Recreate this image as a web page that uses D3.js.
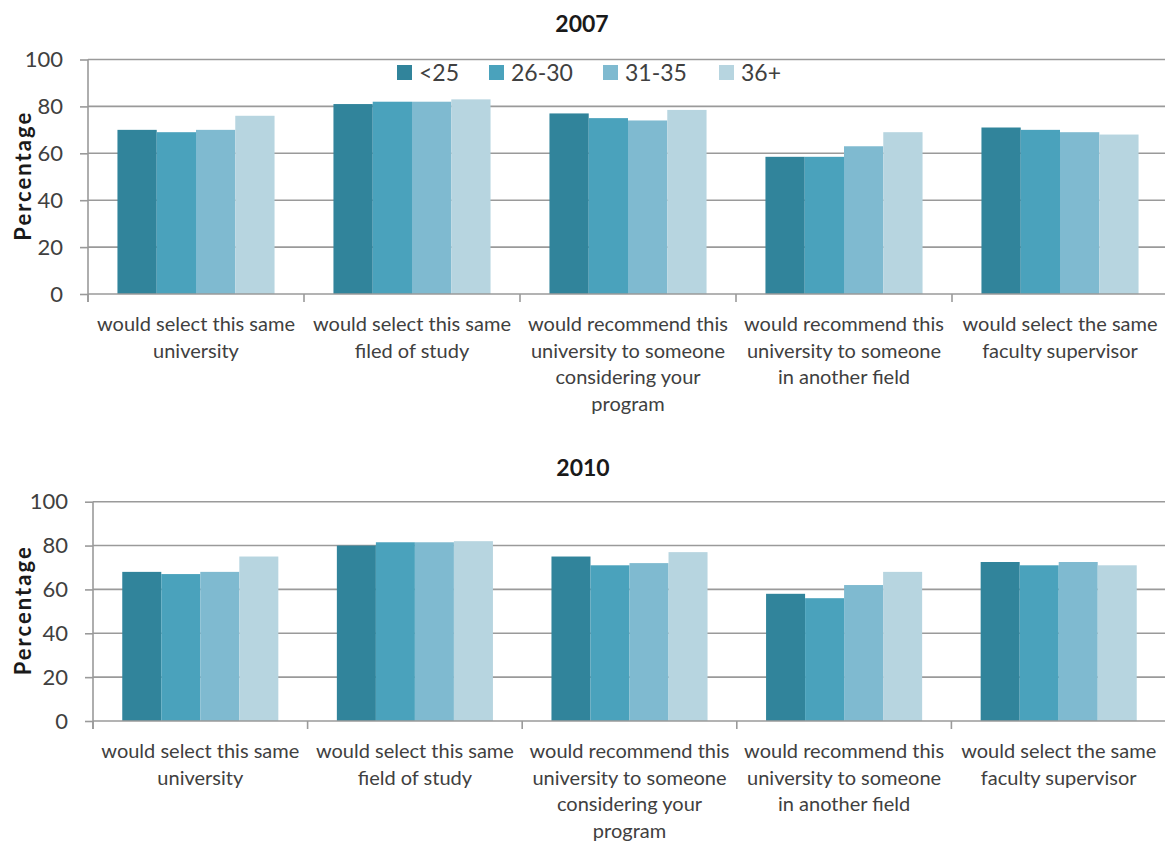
<!DOCTYPE html>
<html>
<head>
<meta charset="utf-8">
<script src="https://cdn.jsdelivr.net/npm/d3@7/dist/d3.min.js"></script>
<style>
  html, body { margin: 0; padding: 0; background: #fff; }
  svg { display: block; font-family: Lato, "Open Sans", sans-serif; }
</style>
</head>
<body>
<svg id="chart" width="1165" height="842"></svg>
<script>
// Age groups (series)
const ageGroups = ["<25", "26-30", "31-35", "36+"];
const seriesColors = ["#31849B", "#4AA2BC", "#7FBAD0", "#B7D5E0"];

// Survey statements (line breaks mark wrapping)
const categories2007 = [
  "would select this same\nuniversity",
  "would select this same\nfiled of study",
  "would recommend this\nuniversity to someone\nconsidering your\nprogram",
  "would recommend this\nuniversity to someone\nin another field",
  "would select the same\nfaculty supervisor"
];
const categories2010 = [
  "would select this same\nuniversity",
  "would select this same\nfield of study",
  "would recommend this\nuniversity to someone\nconsidering your\nprogram",
  "would recommend this\nuniversity to someone\nin another field",
  "would select the same\nfaculty supervisor"
];

// Percentages per statement, one array per age group
const values2007 = {
  "<25":   [70, 81, 77, 58.5, 71],
  "26-30": [69, 82, 75, 58.5, 70],
  "31-35": [70, 82, 74, 63, 69],
  "36+":   [76, 83, 78.5, 69, 68]
};
const values2010 = {
  "<25":   [68, 80, 75, 58, 72.5],
  "26-30": [67, 81.5, 71, 56, 71],
  "31-35": [68, 81.5, 72, 62, 72.5],
  "36+":   [75, 82, 77, 68, 71]
};

const yTicks = [0, 20, 40, 60, 80, 100];

const svg = d3.select("#chart");
const textColor = "#404040";
const gridColor = "#9a9a9a";

function drawPanel(cfg) {
  const g = svg.append("g");
  const cats = cfg.categories;

  const x = d3.scaleBand().domain(d3.range(cats.length)).range([cfg.left, cfg.right]).paddingInner(0).paddingOuter(0);
  const xs = d3.scaleBand().domain(ageGroups).range([0, x.bandwidth()]).paddingInner(0).paddingOuter(0.75);
  const y = d3.scaleLinear().domain([0, 100]).range([cfg.bottom, cfg.top]);

  // title
  g.append("text")
    .attr("x", cfg.titleX).attr("y", cfg.titleY)
    .attr("text-anchor", "middle")
    .attr("font-size", 23).attr("font-weight", "bold")
    .attr("fill", "#1a1a1a")
    .text(cfg.title);

  // horizontal gridlines
  g.append("g").selectAll("line")
    .data(yTicks.filter(t => t > 0))
    .join("line")
    .attr("x1", cfg.left).attr("x2", cfg.right)
    .attr("y1", d => y(d)).attr("y2", d => y(d))
    .attr("stroke", gridColor).attr("stroke-width", 1.6);

  // bars
  const groups = g.append("g").selectAll("g")
    .data(cats.map((c, i) => i))
    .join("g")
    .attr("transform", i => `translate(${x(i)},0)`);

  groups.selectAll("rect")
    .data(i => ageGroups.map((a, k) => ({ a, k, v: cfg.values[a][i] })))
    .join("rect")
    .attr("x", d => xs(d.a))
    .attr("width", xs.bandwidth())
    .attr("y", d => y(d.v))
    .attr("height", d => y(0) - y(d.v))
    .attr("fill", d => seriesColors[d.k]);

  // y axis
  const yAxis = d3.axisLeft(y).tickValues(yTicks).tickSize(8).tickPadding(17);
  const ya = g.append("g").attr("transform", `translate(${cfg.left},0)`).call(yAxis);
  ya.select(".domain").attr("stroke", gridColor).attr("stroke-width", 1.6)
    .attr("d", `M0,${cfg.bottom + 8}V${cfg.top}`);
  ya.selectAll(".tick line").attr("stroke", gridColor).attr("stroke-width", 1.6);
  ya.selectAll(".tick text").attr("font-size", 22).attr("fill", textColor)
    .attr("font-family", "Lato, sans-serif");

  // x axis with category boundary ticks
  const xa = g.append("g");
  xa.append("line")
    .attr("x1", cfg.left).attr("x2", cfg.right)
    .attr("y1", cfg.bottom).attr("y2", cfg.bottom)
    .attr("stroke", gridColor).attr("stroke-width", 1.6);
  xa.selectAll(".bt")
    .data(d3.range(cats.length + 1))
    .join("line")
    .attr("class", "bt")
    .attr("x1", i => cfg.left + i * x.step()).attr("x2", i => cfg.left + i * x.step())
    .attr("y1", cfg.bottom).attr("y2", cfg.bottom + 8)
    .attr("stroke", gridColor).attr("stroke-width", 1.6);

  // category labels
  const labels = xa.selectAll(".cl")
    .data(cats.map((c, i) => ({ c, i })))
    .join("text")
    .attr("class", "cl")
    .attr("text-anchor", "middle")
    .attr("font-size", 20)
    .attr("fill", textColor);
  labels.each(function (d) {
    const t = d3.select(this);
    d.c.split("\n").forEach((line, j) => {
      t.append("tspan")
        .attr("x", x(d.i) + x.bandwidth() / 2)
        .attr("y", cfg.bottom + 37 + j * 26.5)
        .text(line);
    });
  });

  // y axis title
  g.append("text")
    .attr("transform", `translate(${cfg.yTitleX},${(cfg.top + cfg.bottom) / 2}) rotate(-90)`)
    .attr("text-anchor", "middle")
    .attr("font-size", 22).attr("font-weight", "bold")
    .attr("fill", "#1a1a1a")
    .attr("textLength", 128).attr("lengthAdjust", "spacing")
    .text("Percentage");

  // legend
  if (cfg.legend) {
    const lg = g.append("g");
    const xPos = [397, 489, 603, 719];
    ageGroups.forEach((a, k) => {
      lg.append("rect")
        .attr("x", xPos[k]).attr("y", 65)
        .attr("width", 15).attr("height", 15)
        .attr("fill", seriesColors[k]);
      lg.append("text")
        .attr("x", xPos[k] + 22).attr("y", 81)
        .attr("font-size", 23).attr("fill", textColor)
        .text(a);
    });
  }
}

drawPanel({
  title: "2007", titleX: 582, titleY: 32,
  categories: categories2007, values: values2007,
  left: 88, right: 1168, top: 59.5, bottom: 294,
  yTitleX: 31, legend: true
});

drawPanel({
  title: "2010", titleX: 583, titleY: 476,
  categories: categories2010, values: values2010,
  left: 93, right: 1166, top: 501.7, bottom: 721,
  yTitleX: 31, legend: false
});
</script>
</body>
</html>
